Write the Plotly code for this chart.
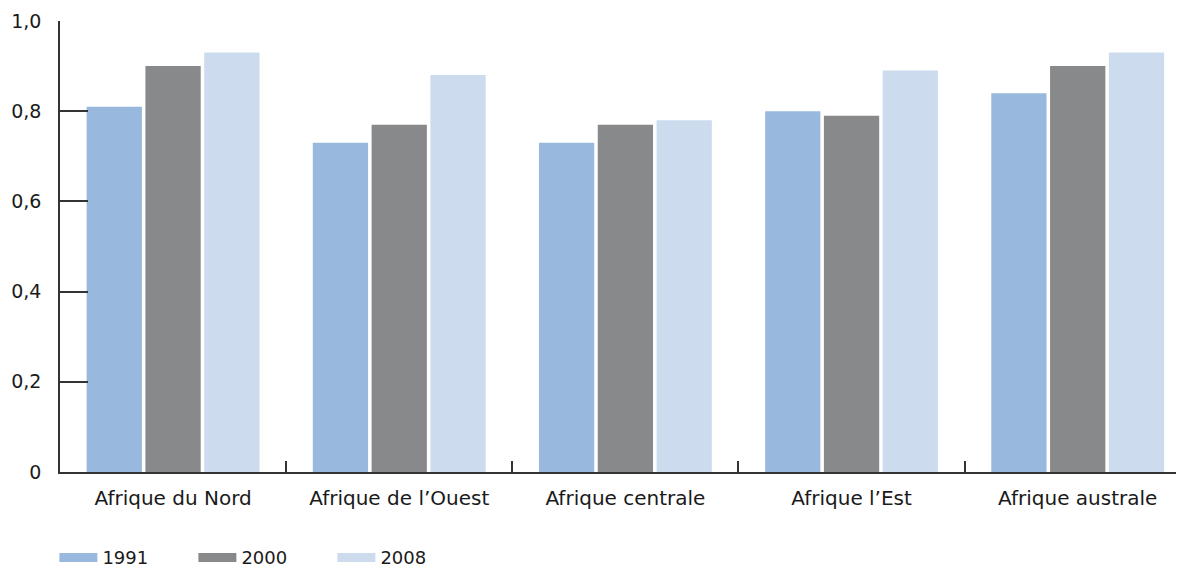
import plotly.graph_objects as go

categories = ["Afrique du Nord", "Afrique de l’Ouest", "Afrique centrale", "Afrique l’Est", "Afrique australe"]
years = ["1991", "2000", "2008"]
v1991 = [0.81, 0.73, 0.73, 0.80, 0.84]
v2000 = [0.90, 0.77, 0.77, 0.79, 0.90]
v2008 = [0.93, 0.88, 0.78, 0.89, 0.93]
colors = ["#98B9DD", "#88898B", "#CCDBEE"]
ytickvals = [0, 0.2, 0.4, 0.6, 0.8, 1.0]
yticktext = ["0", "0,2", "0,4", "0,6", "0,8", "1,0"]

fig = go.Figure()
for name, vals, c in zip(years, [v1991, v2000, v2008], colors):
    fig.add_trace(go.Bar(x=categories, y=vals, name=name, marker=dict(color=c, line=dict(width=0)),
                         showlegend=False))
for name, c in zip(years, colors):
    fig.add_trace(go.Scatter(x=[None], y=[None], mode="lines", name=name,
                             line=dict(color=c, width=9)))

fig.update_layout(
    width=1176, height=563,
    margin=dict(l=52, r=0, t=13, b=99, autoexpand=False),
    paper_bgcolor="white", plot_bgcolor="white",
    font=dict(family="DejaVu Sans", size=20, color="#1a1a1a"),
    barmode="group", bargap=0.22, bargroupgap=0.06,
    showlegend=True,
    legend=dict(orientation="h", x=-0.005, xanchor="left", y=-0.19, yanchor="middle",
                entrywidth=86, entrywidthmode="pixels", itemwidth=38,
                font=dict(size=18)),
    xaxis=dict(type="category", range=[-0.5, 4.47], showline=True, linecolor="#333", linewidth=1.5,
               ticks="inside", ticklen=11, tickcolor="#333", tickwidth=1.5, tickson="boundaries",
               showgrid=False, zeroline=False, ticklabelstandoff=7, tickfont=dict(size=20)),
    yaxis=dict(range=[0, 1.0], showline=True, linecolor="#333", linewidth=1.5,
               ticks="inside", ticklen=28, tickcolor="#333", tickwidth=1.5,
               tickvals=ytickvals, ticktext=yticktext, showgrid=False, zeroline=False,
               ticklabelstandoff=13, tickfont=dict(size=19)),
)
fig.write_html("out.html")
